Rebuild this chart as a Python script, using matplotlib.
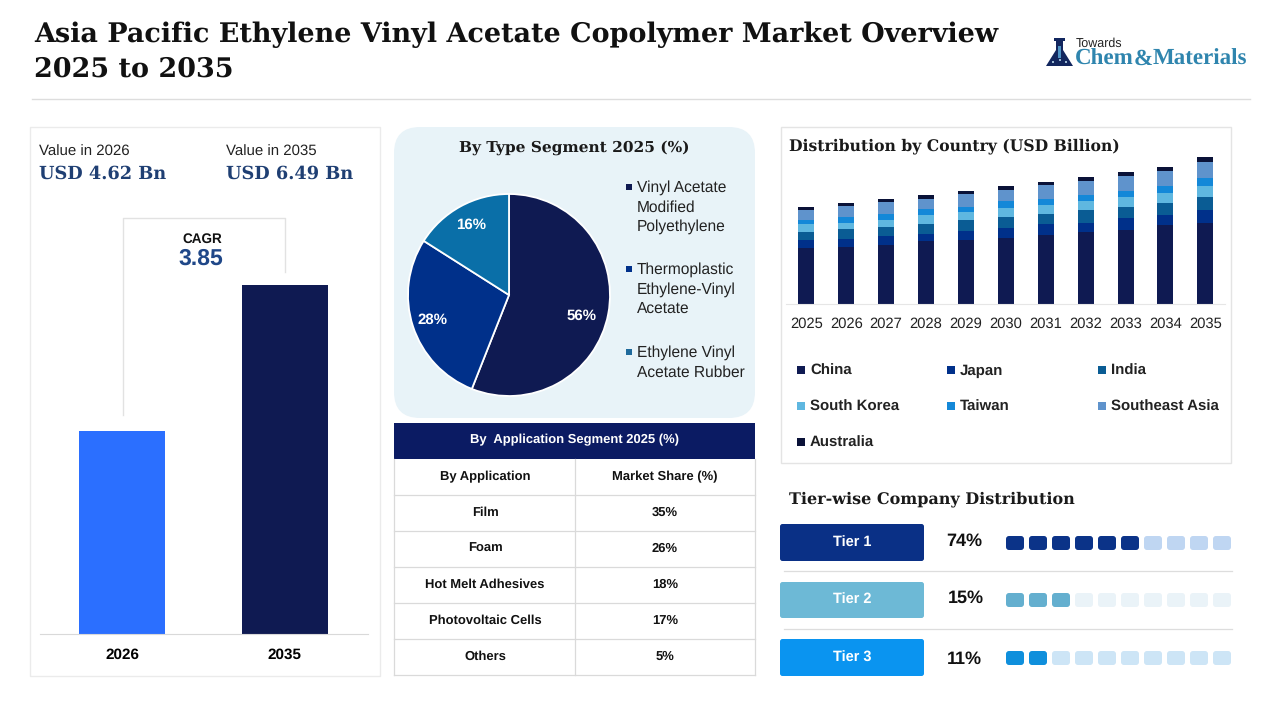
import matplotlib
matplotlib.use("Agg")
import matplotlib.pyplot as plt
from matplotlib.patches import FancyBboxPatch, Rectangle, Polygon, Circle

plt.rcParams["text.hinting"] = "none"

# chart values
value_years = ["2026", "2035"]
value_bn = [4.62, 6.49]

type_labels = ["Vinyl Acetate\nModified\nPolyethylene", "Thermoplastic\nEthylene-Vinyl\nAcetate", "Ethylene Vinyl\nAcetate Rubber"]
type_share = [56, 28, 16]

years = ["2025", "2026", "2027", "2028", "2029", "2030", "2031", "2032", "2033", "2034", "2035"]
china = [2.46, 2.54, 2.61, 2.80, 2.83, 2.91, 3.05, 3.20, 3.27, 3.50, 3.57]
japan = [0.37, 0.35, 0.40, 0.32, 0.40, 0.44, 0.49, 0.40, 0.55, 0.44, 0.59]
india = [0.37, 0.41, 0.38, 0.41, 0.49, 0.49, 0.44, 0.56, 0.46, 0.52, 0.56]
south_korea = [0.32, 0.30, 0.35, 0.40, 0.34, 0.41, 0.40, 0.41, 0.44, 0.44, 0.50]
taiwan = [0.19, 0.24, 0.24, 0.27, 0.22, 0.32, 0.25, 0.25, 0.30, 0.32, 0.34]
southeast_asia = [0.44, 0.50, 0.53, 0.47, 0.59, 0.47, 0.63, 0.62, 0.66, 0.68, 0.72]
australia = [0.13, 0.15, 0.13, 0.15, 0.13, 0.18, 0.13, 0.18, 0.16, 0.16, 0.21]

app_names = ["Film", "Foam", "Hot Melt Adhesives", "Photovoltaic Cells", "Others"]
app_share = ["35%", "26%", "18%", "17%", "5%"]

tier_names = ["Tier 1", "Tier 2", "Tier 3"]
tier_share = ["74%", "15%", "11%"]
tier_filled = [6, 3, 2]

NAVY = "#0F1A52"
SERIF = "DejaVu Serif"
LOGO_SERIF = "Liberation Serif"
SANS = "Liberation Sans"
W, H = 1280, 720

fig = plt.figure(figsize=(12.8, 7.2), dpi=100, facecolor="white")
bg = fig.add_axes([0, 0, 1, 1])
bg.set_xlim(0, W)
bg.set_ylim(H, 0)
bg.axis("off")


def sub_axes(left, top, right, bottom):
    # axes placed by reference pixels
    ax = fig.add_axes([left / W, 1 - bottom / H, (right - left) / W, (bottom - top) / H])
    ax.patch.set_alpha(0)
    return ax


def txt(x, y, s, px, color="#111111", ha="left", bold=False, family=SANS, **kw):
    bg.text(x, y + 1, s, fontsize=px * 0.72, color=color, ha=ha, va="center",
            fontweight="bold" if bold else "normal", family=family, **kw)


def square(x, y, size, color):
    bg.add_patch(Rectangle((x, y), size, size, facecolor=color, edgecolor="none"))


def round_box(x0, y0, x1, y1, r, color, **kw):
    bg.add_patch(FancyBboxPatch((x0 + r, y0 + r), x1 - x0 - 2 * r, y1 - y0 - 2 * r,
                                boxstyle=f"round,pad={r},rounding_size={r}",
                                facecolor=color, edgecolor="none", **kw))


# header
txt(34, 34, "Asia Pacific Ethylene Vinyl Acetate Copolymer Market Overview", 27, bold=True, family=SERIF)
txt(34, 68, "2025 to 2035", 27, bold=True, family=SERIF)
bg.plot([32, 1250], [99, 99], color="#DDDDDD", lw=1)

# logo
bg.add_patch(Polygon([[1056, 41], [1063, 41], [1063, 50], [1073, 66], [1046, 66], [1056, 50]],
                     facecolor="#12265E", edgecolor="none"))
bg.add_patch(Rectangle((1054, 38), 11, 3, facecolor="#12265E", edgecolor="none"))
bg.add_patch(Rectangle((1058, 46), 3, 12, facecolor="#4E93C4", edgecolor="none"))
for dx, dy in [(1053, 62), (1060, 60), (1066, 62)]:
    bg.add_patch(Circle((dx, dy), 1, facecolor="#BFE0F2", edgecolor="none"))
txt(1076, 43, "Towards", 12.5, color="#222222")
txt(1075, 58, "Chem", 23, color="#2F85AE", bold=True, family=LOGO_SERIF)
txt(1134, 58, "&", 23, color="#2F85AE", bold=True, family=LOGO_SERIF)
txt(1153, 58, "Materials", 23, color="#2F85AE", bold=True, family=LOGO_SERIF)

# left panel
bg.add_patch(Rectangle((30, 127), 350, 549, facecolor="white", edgecolor="#EBEBEB", lw=1))
txt(39, 151, "Value in 2026", 15, color="#222222")
txt(226, 151, "Value in 2035", 15, color="#222222")
txt(39, 173, "USD 4.62 Bn", 17.7, color="#1F3F73", bold=True, family=SERIF)
txt(226, 173, "USD 6.49 Bn", 17.7, color="#1F3F73", bold=True, family=SERIF)
bg.plot([123, 123, 285, 285], [415, 218, 218, 272], color="#E2E2E2", lw=1)
txt(202, 238, "CAGR", 13.5, ha="center", bold=True)
txt(201, 258, "3.85", 23, color="#1F4788", ha="center", bold=True)

ax = sub_axes(40, 285, 368, 634)
ax.bar([0, 1], value_bn, width=0.529, color=["#2B6FFF", NAVY])
ax.set_xlim(-0.505, 1.513)
ax.set_ylim(2.02, 6.49)
ax.set_yticks([])
ax.set_xticks([0, 1], value_years, fontsize=11, fontweight="bold", family=SANS)
ax.tick_params(axis="x", length=0, pad=10)
for s in ["top", "left", "right"]:
    ax.spines[s].set_visible(False)
ax.spines["bottom"].set_color("#D9D9D9")

# pie panel
round_box(394, 127, 755, 418, 26, "#E8F3F8")
txt(574, 147, "By Type Segment 2025 (%)", 15.4, color="#1A1A1A", ha="center", bold=True, family=SERIF)
pie_colors = [NAVY, "#00308A", "#0A6FA8"]
ax = sub_axes(408, 194, 610, 396)
wedges, _, autotexts = ax.pie(type_share, colors=pie_colors, startangle=90, counterclock=False, radius=1,
                              autopct="%d%%", pctdistance=0.8,
                              wedgeprops=dict(edgecolor="white", linewidth=1.3),
                              textprops=dict(color="white", fontsize=10.8, fontweight="bold", family=SANS))
autotexts[0].set_position((0.72, -0.21))
autotexts[2].set_position((-0.376, 0.69))
ax.set_xlim(-1, 1)
ax.set_ylim(-1, 1)
legend_y = [187, 269, 352]
marker_colors = [NAVY, "#00308A", "#1F6A9C"]
for lab, ly, mc in zip(type_labels, legend_y, marker_colors):
    square(626, ly - 3, 6, mc)
    for k, line in enumerate(lab.split("\n")):
        txt(637, ly + k * 19.5, line, 15.5, color="#222222")

# application table
bg.add_patch(Rectangle((394, 423), 361, 36, facecolor="#0B1B63", edgecolor="none"))
txt(574, 439, "By  Application Segment 2025 (%)", 13, color="white", ha="center", bold=True)
row_y = [459, 495, 531, 567, 603, 639, 675]
for ry in row_y[1:]:
    bg.plot([394, 755], [ry, ry], color="#DADADA", lw=0.9)
bg.plot([394, 394], [459, 675], color="#DADADA", lw=0.9)
bg.plot([755, 755], [459, 675], color="#DADADA", lw=0.9)
bg.plot([575, 575], [459, 675], color="#DADADA", lw=0.9)
txt(485, 476, "By Application", 13, ha="center", bold=True)
txt(665, 476, "Market Share (%)", 13, ha="center", bold=True)
for i, (nm, sh) in enumerate(zip(app_names, app_share)):
    yc = (row_y[i + 1] + row_y[i + 2]) / 2
    txt(485, yc - 1, nm, 13, ha="center", bold=True)
    txt(665, yc - 1, sh, 13, ha="center", bold=True)

# stacked bars
bg.add_patch(Rectangle((781, 127), 450, 336, facecolor="white", edgecolor="#E4E4E4", lw=1))
txt(789, 145, "Distribution by Country (USD Billion)", 15.6, color="#1A1A1A", bold=True, family=SERIF)
series = [("China", china, NAVY), ("Japan", japan, "#00308A"), ("India", india, "#0A5C94"),
          ("South Korea", south_korea, "#5FB7E0"), ("Taiwan", taiwan, "#1488D8"),
          ("Southeast Asia", southeast_asia, "#5F93CC"), ("Australia", australia, "#0A1238")]
ax = sub_axes(786.3, 154, 1225.3, 304)
bottom = [0.0] * len(years)
xpos = list(range(len(years)))
for name, vals, col in series:
    ax.bar(xpos, vals, width=0.4, bottom=bottom, color=col, label=name)
    bottom = [b + v for b, v in zip(bottom, vals)]
ax.set_xlim(-0.5, 10.5)
ax.set_ylim(0, 6.64)
ax.set_yticks([])
ax.set_xticks(xpos, years, fontsize=10.6, family=SANS, color="#222222")
ax.tick_params(axis="x", length=0, pad=9.5)
for s in ["top", "left", "right"]:
    ax.spines[s].set_visible(False)
ax.spines["bottom"].set_color("#E6E6E6")

legend_pos = [(797, 370), (947, 370), (1098, 370), (797, 406), (947, 406), (1098, 406), (797, 442)]
for (name, vals, col), (lx, ly) in zip(series, legend_pos):
    square(lx, ly - 4, 8, col)
    txt(lx + 13, ly, name, 15, color="#222222", bold=True)

# tiers
txt(789, 498, "Tier-wise Company Distribution", 16, color="#1A1A1A", bold=True, family=SERIF)
tier_box = [(524, 561), (582, 618), (639, 676)]
tier_color = ["#0A3086", "#6DB9D6", "#0A94F0"]
tier_dark = ["#0B3388", "#64AFCF", "#0F8FDC"]
tier_light = ["#BFD6F2", "#EAF3F8", "#CDE5F6"]
tier_sq_y = [536, 593, 651]
tier_pct_x = [964, 965.5, 964]
tier_pct_y = [541, 598, 659]
for i in range(3):
    y0, y1 = tier_box[i]
    round_box(780, y0, 924, y1, 2.5, tier_color[i])
    txt(852, (y0 + y1) / 2 - 1, tier_names[i], 14.5, color="white", ha="center", bold=True)
    txt(tier_pct_x[i], tier_pct_y[i] - 1, tier_share[i], 18, ha="center", bold=True)
    for k in range(10):
        col = tier_dark[i] if k < tier_filled[i] else tier_light[i]
        round_box(1006 + k * 23, tier_sq_y[i], 1024 + k * 23, tier_sq_y[i] + 14, 3, col)
bg.plot([784, 1232], [571, 571], color="#DDDDDD", lw=0.9)
bg.plot([784, 1232], [629, 629], color="#DDDDDD", lw=0.9)

fig.savefig("out.png", dpi=100)
